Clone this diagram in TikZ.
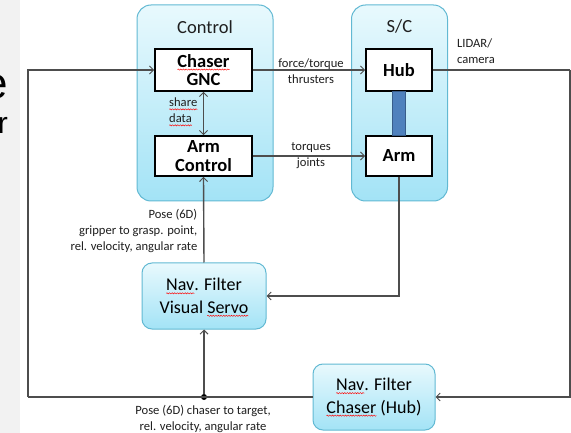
\documentclass[tikz,border=0pt]{standalone}
\usepackage{fontspec}
\setmainfont{Carlito}
\newfontfamily\slidefont{Liberation Sans}
\usetikzlibrary{arrows.meta,decorations.pathmorphing}

\definecolor{wire}{HTML}{4D4D4D}
\definecolor{panelTop}{HTML}{E8F9FD}
\definecolor{panelBot}{HTML}{A3E3F6}
\definecolor{panelEdge}{HTML}{62B9D3}
\definecolor{linkFill}{HTML}{4F81BD}
\definecolor{linkEdge}{HTML}{385D8A}
\definecolor{stripGray}{HTML}{F2F2F2}
\definecolor{labelInk}{HTML}{1F1F1F}

% red wavy spell-check underline under a word
\newcommand\spellmark[1]{\tikz[baseline=(sw.base), rounded corners=0pt]{%
  \node[inner sep=0pt, outer sep=0pt, minimum width=0pt, minimum height=0pt,
        draw=none, fill=none] (sw) {#1};%
  \draw[overlay, red, line width=0.45pt, decorate,
        decoration={snake, amplitude=0.6pt, segment length=2.6pt}]
    ([yshift=-2.4pt]sw.base west) -- ([yshift=-2.4pt]sw.base east);}}

\tikzset{
  panel/.style={draw=panelEdge, line width=1pt, rounded corners=14pt,
    top color=panelTop, bottom color=panelBot, inner sep=0pt},
  filterbox/.style={draw=panelEdge, line width=1pt, rounded corners=10pt,
    top color=panelTop, bottom color=panelBot, align=center,
    font=\fontsize{18}{22.5}\selectfont, inner sep=0pt},
  blockbox/.style={draw=black, line width=1.6pt, fill=white, align=center,
    font=\fontsize{18.5}{18.5}\selectfont\bfseries, inner sep=0pt},
  paneltitle/.style={font=\fontsize{18.5}{20}\selectfont, text=labelInk, inner sep=0pt},
  lbl/.style={font=\fontsize{12.6}{16}\selectfont, text=labelInk, inner sep=0pt},
  wire/.style={draw=wire, line width=1.4pt},
  arr/.style={wire, -{Straight Barb[length=4pt,width=8pt,line width=1pt]}},
  darr/.style={wire, {Straight Barb[length=4pt,width=8pt,line width=1pt]}-{Straight Barb[length=4pt,width=8pt,line width=1pt]}},
}

\begin{document}
\begin{tikzpicture}[x=1pt, y=-1pt]
\useasboundingbox (0,0) rectangle (571,433);
\fill[white] (0,0) rectangle (571,433);

% slide edge on the left
\fill[stripGray] (0,0) rectangle (20,433);
\begin{scope}
  \clip (0,0) rectangle (20,433);
  \node[font=\fontsize{44}{44}\selectfont\slidefont, anchor=base east, inner sep=0pt] (slideE) at (8.5,99) {e};
  \node[font=\fontsize{30}{30}\selectfont\slidefont, anchor=base east, inner sep=0pt] (slideR) at (8,134) {r};
\end{scope}

% containers
\node[panel, minimum width=136pt, minimum height=196pt] (ctl) at (205,103) {};
\node[paneltitle] (ctlT) at (205,27) {Control};
\node[panel, minimum width=96pt, minimum height=196pt] (sc) at (399.5,103) {};
\node[paneltitle] (scT) at (399.5,26) {S/C};

% blocks
\node[blockbox, minimum width=97pt, minimum height=42pt] (gnc) at (203.5,70) {\spellmark{Chaser}\\GNC};
\node[blockbox, minimum width=97pt, minimum height=40pt] (armc) at (203.5,156) {Arm\\Control};
\node[blockbox, minimum width=66pt, minimum height=42pt] (hub) at (399,70) {Hub};
\node[blockbox, minimum width=66pt, minimum height=40pt] (arm) at (399,156) {Arm};

% manipulator link between hub and arm
\path[fill=linkFill, draw=linkEdge, line width=0.8pt]
  ([xshift=-6.5pt]hub.south) rectangle ([xshift=6.5pt]arm.north);

% filters
\node[filterbox, minimum width=124pt, minimum height=66pt] (navs) at (204,296) {\spellmark{Nav}. Filter\\Visual \spellmark{Servo}};
\node[filterbox, minimum width=122pt, minimum height=66pt] (navc) at (374,397) {\spellmark{Nav}. Filter\\\spellmark{Chaser} (Hub)};

% routing points
\coordinate (rtop) at (570,70);
\coordinate (lbot) at (28,397);
\node[circle, fill=black, inner sep=0pt, minimum size=6pt] (split) at (204,397) {};

% connectors
\draw[arr] (gnc.east) -- (hub.west);
\draw[arr] (armc.east) -- (arm.west);
\draw[darr] (gnc.south) -- (armc.north);
\draw[wire] (hub.east) -- (rtop);
\draw[arr] (rtop) |- (navc.east);
\draw[wire] (navc.west) -- (split.center) -- (lbot);
\draw[arr] (lbot) |- (gnc.west);
\draw[arr] (split) -- (navs.south);
\draw[arr] (navs.north) -- (armc.south);
\draw[arr] (arm.south) |- (navs.east);

% labels
\node[lbl, align=left, anchor=north west] (shareL) at (169,98) {\spellmark{share}\\\spellmark{data}};
\node[lbl, align=center] (ftL) at (311,71) {force/torque\\thrusters};
\node[lbl, align=center] (tjL) at (311,156) {torques\\joints};
\node[lbl, align=left] (lidarL) at (476,51) {LIDAR/\\camera};
\node[lbl, align=right, anchor=north east] (poseL) at (197.5,209) {Pose (6D)\\gripper to grasp. point,\\rel. velocity, angular rate};
\node[lbl, align=center, anchor=north] (poseB) at (203,405) {Pose (6D) chaser to target,\\rel. velocity, angular rate};
\end{tikzpicture}
\end{document}
